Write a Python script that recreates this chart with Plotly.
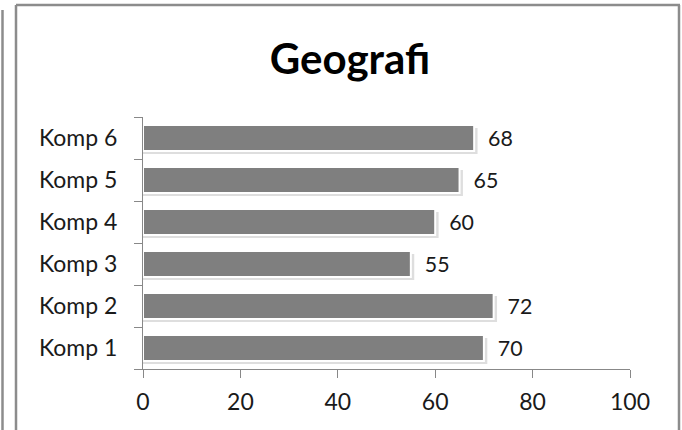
import plotly.graph_objects as go

categories = ["Komp 1", "Komp 2", "Komp 3", "Komp 4", "Komp 5", "Komp 6"]
values = [70, 72, 55, 60, 65, 68]
x_ticks = [0, 20, 40, 60, 80, 100]
title_text = "Geografi"

W, H = 682, 430
L, R, T, B = 143, 52, 117, 61
pw, ph = W - L - R, H - T - B

def px_x(p):
    return (p - L) / pw

def px_y(p):
    return (H - B - p) / ph

font_family = "Lato, 'Open Sans', sans-serif"
bar_w = 0.62

fig = go.Figure()
# soft shadow behind bars
fig.add_trace(go.Bar(
    y=categories, x=[v + 0.7 for v in values], orientation="h",
    marker=dict(color="rgba(0,0,0,0.13)", line=dict(width=0)),
    width=bar_w, offset=-bar_w / 2 - 0.07, hoverinfo="skip",
))
fig.add_trace(go.Bar(
    y=categories, x=values, orientation="h",
    marker=dict(color="#7f7f7f", line=dict(color="#ffffff", width=2)),
    text=values, texttemplate="  %{x}", textposition="outside",
    textfont=dict(size=23, color="#1a1a1a", family=font_family),
    cliponaxis=False, width=bar_w, offset=-bar_w / 2,
))

border = "#8c8c8c"
shapes = [
    dict(type="line", xref="paper", yref="paper",
         x0=px_x(16), x1=px_x(680), y0=px_y(5), y1=px_y(5),
         line=dict(color=border, width=2.5)),
    dict(type="line", xref="paper", yref="paper",
         x0=px_x(16), x1=px_x(16), y0=px_y(5), y1=px_y(445),
         line=dict(color=border, width=2.5)),
    dict(type="line", xref="paper", yref="paper",
         x0=px_x(679), x1=px_x(679), y0=px_y(5), y1=px_y(445),
         line=dict(color=border, width=2.5)),
    dict(type="line", xref="paper", yref="paper",
         x0=px_x(2.5), x1=px_x(2.5), y0=px_y(10), y1=px_y(445),
         line=dict(color=border, width=2.5)),
]

fig.update_layout(
    width=W, height=H,
    margin=dict(l=L, r=R, t=T, b=B, pad=0),
    paper_bgcolor="white", plot_bgcolor="white",
    showlegend=False, barmode="overlay",
    title=dict(text="<b>" + title_text + "</b>", x=px_x(350), xanchor="center", xref="paper",
               y=1 - 59 / H, yanchor="middle",
               font=dict(size=42, color="#000000", family=font_family)),
    xaxis=dict(range=[0, 100], tickvals=x_ticks, ticks="outside", ticklen=8,
               tickcolor="#888888", showline=True, linecolor="#888888", linewidth=1,
               showgrid=False, zeroline=False, ticklabelstandoff=4,
               tickfont=dict(size=23, color="#1a1a1a", family=font_family)),
    yaxis=dict(ticks="outside", tickson="boundaries", ticklen=8, tickcolor="#888888",
               showline=True, linecolor="#888888", linewidth=1, showgrid=False,
               ticklabelstandoff=20,
               tickfont=dict(size=23, color="#1a1a1a", family=font_family)),
    shapes=shapes,
)

fig.write_html("out.html", config={"displayModeBar": False},
               post_script="document.body.style.margin='0';document.body.style.overflow='hidden';")
